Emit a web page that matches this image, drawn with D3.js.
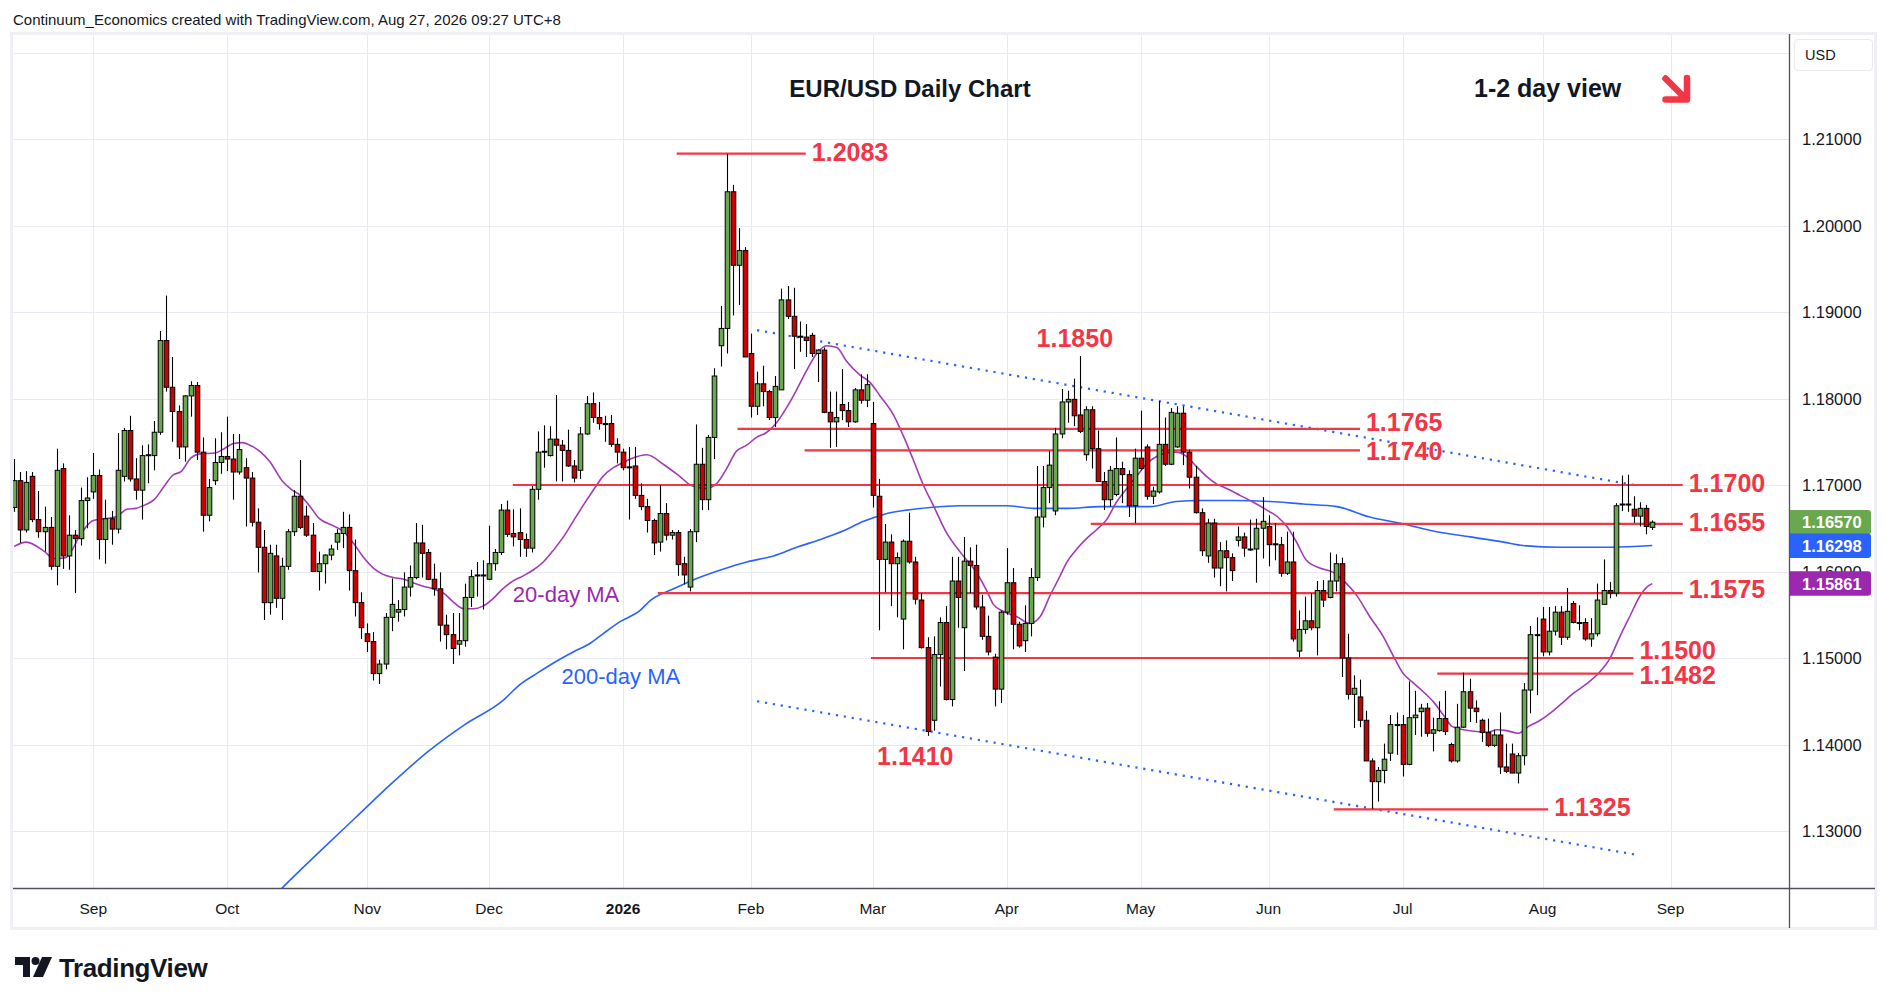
<!DOCTYPE html>
<html>
<head>
<meta charset="utf-8">
<script src="https://cdn.jsdelivr.net/npm/d3@7/dist/d3.min.js"></script>
<style>
body{margin:0;background:#fff;}
svg{display:block;}
</style>
</head>
<body>
<svg id="chart" width="1889" height="1003"></svg>
<script>
// ---- data (bar index 0 = 13 Aug 2025, daily bars, weekends / 25 Dec / 1 Jan skipped)
var opens = [
1.1674,1.1705,1.1648,1.1710,1.1660,1.1646,1.1651,1.1606,1.1719,1.1618,1.1642,1.1638,1.1682,1.1692,1.1711,1.1637,1.1661,1.1649,1.1710,1.1763,
1.1707,1.1694,1.1734,1.1734,1.1761,1.1867,1.1813,1.1785,1.1744,1.1803,1.1815,1.1738,1.1665,1.1705,1.1726,1.1733,1.1730,1.1715,1.1720,1.1708,
1.1657,1.1628,1.1564,1.1618,1.1569,1.1606,1.1646,1.1687,1.1664,1.1642,1.1600,1.1609,1.1619,1.1634,1.1644,1.1651,1.1601,1.1564,1.1528,1.1519,
1.1482,1.1493,1.1547,1.1553,1.1556,1.1582,1.1593,1.1633,1.1622,1.1591,1.1580,1.1538,1.1527,1.1516,1.1520,1.1570,1.1596,1.1596,1.1591,1.1609,
1.1622,1.1671,1.1644,1.1645,1.1637,1.1627,1.1695,1.1738,1.1734,1.1753,1.1746,1.1740,1.1722,1.1717,1.1759,1.1794,1.1778,1.1771,1.1771,1.1747,
1.1738,1.1721,1.1722,1.1688,1.1675,1.1659,1.1634,1.1667,1.1642,1.1645,1.1609,1.1582,1.1646,1.1724,1.1683,1.1755,1.1861,1.1881,1.2039,1.1954,
1.1971,1.1852,1.1791,1.1817,1.1808,1.1778,1.1810,1.1914,1.1895,1.1872,1.1871,1.1873,1.1852,1.1856,1.1784,1.1773,1.1793,1.1786,1.1773,1.1810,
1.1798,1.1771,1.1687,1.1614,1.1634,1.1609,1.1545,1.1635,1.1611,1.1567,1.1512,1.1428,1.1504,1.1541,1.1452,1.1589,1.1535,1.1612,1.1607,1.1559,
1.1525,1.1501,1.1464,1.1553,1.1587,1.1539,1.1520,1.1540,1.1593,1.1663,1.1697,1.1670,1.1759,1.1796,1.1799,1.1781,1.1735,1.1787,1.1742,1.1704,
1.1683,1.1689,1.1719,1.1712,1.1676,1.1731,1.1744,1.1687,1.1692,1.1747,1.1724,1.1744,1.1783,1.1738,1.1709,1.1668,1.1618,1.1656,1.1604,1.1624,
1.1616,1.1636,1.1640,1.1626,1.1626,1.1650,1.1652,1.1632,1.1631,1.1598,1.1611,1.1508,1.1533,1.1543,1.1535,1.1578,1.1570,1.1589,1.1609,1.1500,
1.1458,1.1455,1.1428,1.1381,1.1357,1.1370,1.1390,1.1423,1.1423,1.1377,1.1431,1.1438,1.1442,1.1413,1.1416,1.1430,1.1400,1.1381,1.1420,1.1461,
1.1442,1.1428,1.1414,1.1399,1.1411,1.1374,1.1389,1.1367,1.1387,1.1463,1.1527,1.1545,1.1507,1.1531,1.1553,1.1524,1.1563,1.1541,1.1541,1.1522,
1.1528,1.1562,1.1578,1.1575,1.1677,1.1678,1.1672,1.1664,1.1673,1.1651];
var highs = [
1.1730,1.1715,1.1716,1.1715,1.1693,1.1675,1.1663,1.1742,1.1725,1.1665,1.1648,1.1697,1.1709,1.1737,1.1718,1.1683,1.1670,1.1760,1.1766,1.1780,
1.1731,1.1746,1.1747,1.1774,1.1878,1.1919,1.1848,1.1792,1.1804,1.1820,1.1819,1.1755,1.1707,1.1754,1.1761,1.1779,1.1759,1.1759,1.1731,1.1715,
1.1673,1.1648,1.1631,1.1631,1.1616,1.1649,1.1694,1.1729,1.1676,1.1656,1.1623,1.1620,1.1631,1.1649,1.1669,1.1666,1.1637,1.1576,1.1540,1.1530,
1.1498,1.1552,1.1592,1.1567,1.1599,1.1607,1.1656,1.1654,1.1626,1.1609,1.1599,1.1550,1.1552,1.1552,1.1586,1.1602,1.1611,1.1613,1.1653,1.1626,
1.1678,1.1682,1.1672,1.1673,1.1644,1.1699,1.1762,1.1769,1.1768,1.1804,1.1752,1.1764,1.1729,1.1767,1.1803,1.1807,1.1796,1.1780,1.1781,1.1754,
1.1742,1.1744,1.1744,1.1702,1.1684,1.1661,1.1700,1.1679,1.1648,1.1648,1.1617,1.1649,1.1770,1.1743,1.1758,1.1835,1.1907,1.2083,1.2047,1.1997,
1.1975,1.1875,1.1831,1.1838,1.1810,1.1826,1.1927,1.1930,1.1928,1.1889,1.1886,1.1876,1.1857,1.1859,1.1808,1.1808,1.1834,1.1796,1.1812,1.1828,
1.1828,1.1796,1.1707,1.1655,1.1643,1.1622,1.1637,1.1668,1.1617,1.1575,1.1524,1.1525,1.1547,1.1560,1.1617,1.1617,1.1640,1.1628,1.1631,1.1573,
1.1549,1.1505,1.1555,1.1627,1.1604,1.1542,1.1561,1.1604,1.1722,1.1722,1.1739,1.1766,1.1811,1.1809,1.1823,1.1849,1.1791,1.1791,1.1763,1.1715,
1.1722,1.1755,1.1727,1.1717,1.1742,1.1786,1.1747,1.1698,1.1797,1.1778,1.1789,1.1791,1.1791,1.1741,1.1722,1.1673,1.1661,1.1661,1.1634,1.1636,
1.1621,1.1652,1.1645,1.1660,1.1661,1.1686,1.1665,1.1656,1.1640,1.1646,1.1646,1.1555,1.1571,1.1575,1.1589,1.1590,1.1622,1.1620,1.1616,1.1528,
1.1480,1.1475,1.1439,1.1384,1.1374,1.1401,1.1434,1.1437,1.1434,1.1473,1.1462,1.1447,1.1448,1.1431,1.1450,1.1462,1.1402,1.1447,1.1483,1.1476,
1.1451,1.1430,1.1430,1.1417,1.1437,1.1401,1.1401,1.1390,1.1471,1.1537,1.1547,1.1559,1.1559,1.1560,1.1560,1.1581,1.1566,1.1561,1.1546,1.1546,
1.1586,1.1614,1.1588,1.1679,1.1711,1.1712,1.1687,1.1680,1.1677,1.1659];
var lows = [
1.1669,1.1633,1.1645,1.1657,1.1639,1.1623,1.1602,1.1584,1.1603,1.1602,1.1575,1.1630,1.1650,1.1684,1.1614,1.1609,1.1631,1.1644,1.1704,1.1704,
1.1683,1.1660,1.1702,1.1717,1.1758,1.1808,1.1750,1.1730,1.1727,1.1779,1.1729,1.1646,1.1658,1.1700,1.1713,1.1716,1.1683,1.1712,1.1652,1.1652,
1.1599,1.1544,1.1550,1.1558,1.1544,1.1602,1.1641,1.1649,1.1640,1.1600,1.1578,1.1586,1.1613,1.1625,1.1627,1.1578,1.1548,1.1522,1.1507,1.1474,
1.1470,1.1487,1.1531,1.1542,1.1548,1.1571,1.1591,1.1593,1.1590,1.1572,1.1519,1.1510,1.1493,1.1503,1.1513,1.1559,1.1571,1.1556,1.1590,1.1601,
1.1619,1.1640,1.1629,1.1617,1.1617,1.1622,1.1683,1.1720,1.1733,1.1704,1.1704,1.1721,1.1703,1.1707,1.1758,1.1772,1.1764,1.1750,1.1744,1.1725,
1.1717,1.1660,1.1684,1.1671,1.1645,1.1619,1.1623,1.1636,1.1637,1.1595,1.1585,1.1577,1.1634,1.1671,1.1671,1.1730,1.1837,1.1852,1.1896,1.1908,
1.1848,1.1778,1.1781,1.1791,1.1775,1.1767,1.1810,1.1892,1.1834,1.1854,1.1848,1.1848,1.1819,1.1783,1.1743,1.1744,1.1775,1.1767,1.1772,1.1794,
1.1790,1.1674,1.1532,1.1576,1.1560,1.1547,1.1510,1.1609,1.1562,1.1511,1.1410,1.1416,1.1467,1.1451,1.1444,1.1535,1.1485,1.1575,1.1556,1.1521,
1.1503,1.1444,1.1448,1.1550,1.1510,1.1512,1.1507,1.1525,1.1589,1.1651,1.1679,1.1665,1.1754,1.1772,1.1768,1.1760,1.1728,1.1719,1.1704,1.1671,
1.1675,1.1687,1.1679,1.1663,1.1656,1.1717,1.1683,1.1678,1.1690,1.1722,1.1723,1.1743,1.1723,1.1696,1.1667,1.1618,1.1610,1.1593,1.1583,1.1577,
1.1589,1.1629,1.1617,1.1624,1.1587,1.1615,1.1606,1.1613,1.1594,1.1596,1.1519,1.1501,1.1528,1.1532,1.1503,1.1559,1.1569,1.1577,1.1478,1.1452,
1.1419,1.1420,1.1381,1.1326,1.1334,1.1355,1.1381,1.1388,1.1363,1.1376,1.1411,1.1409,1.1409,1.1392,1.1415,1.1411,1.1379,1.1379,1.1419,1.1426,
1.1425,1.1403,1.1397,1.1397,1.1366,1.1367,1.1367,1.1355,1.1376,1.1436,1.1457,1.1502,1.1503,1.1526,1.1515,1.1521,1.1540,1.1532,1.1520,1.1513,
1.1525,1.1562,1.1569,1.1571,1.1670,1.1669,1.1656,1.1652,1.1643,1.1648];
var closes = [
1.1705,1.1648,1.1703,1.1660,1.1646,1.1651,1.1606,1.1717,1.1618,1.1642,1.1638,1.1682,1.1685,1.1711,1.1637,1.1661,1.1649,1.1717,1.1763,1.1707,
1.1694,1.1734,1.1735,1.1761,1.1867,1.1813,1.1785,1.1744,1.1803,1.1815,1.1738,1.1665,1.1697,1.1726,1.1733,1.1730,1.1715,1.1741,1.1708,1.1657,
1.1628,1.1564,1.1621,1.1569,1.1606,1.1646,1.1687,1.1651,1.1642,1.1600,1.1609,1.1619,1.1626,1.1644,1.1651,1.1601,1.1564,1.1535,1.1519,1.1482,
1.1493,1.1547,1.1562,1.1556,1.1582,1.1593,1.1633,1.1621,1.1591,1.1580,1.1538,1.1527,1.1511,1.1520,1.1570,1.1594,1.1595,1.1596,1.1609,1.1622,
1.1671,1.1643,1.1640,1.1637,1.1627,1.1695,1.1738,1.1739,1.1753,1.1746,1.1740,1.1722,1.1708,1.1759,1.1794,1.1778,1.1771,1.1771,1.1747,1.1738,
1.1720,1.1721,1.1688,1.1675,1.1659,1.1633,1.1667,1.1642,1.1645,1.1608,1.1596,1.1646,1.1724,1.1683,1.1755,1.1826,1.1881,1.2039,1.1954,1.1971,
1.1848,1.1791,1.1817,1.1808,1.1778,1.1814,1.1914,1.1895,1.1872,1.1871,1.1867,1.1852,1.1856,1.1784,1.1773,1.1778,1.1786,1.1773,1.1810,1.1798,
1.1816,1.1688,1.1614,1.1634,1.1609,1.1616,1.1635,1.1611,1.1568,1.1512,1.1415,1.1504,1.1541,1.1452,1.1589,1.1570,1.1612,1.1607,1.1559,1.1525,
1.1507,1.1464,1.1553,1.1587,1.1539,1.1514,1.1540,1.1593,1.1663,1.1697,1.1723,1.1759,1.1796,1.1799,1.1780,1.1762,1.1787,1.1742,1.1704,1.1683,
1.1717,1.1719,1.1712,1.1676,1.1731,1.1719,1.1687,1.1693,1.1747,1.1724,1.1784,1.1783,1.1738,1.1709,1.1668,1.1624,1.1656,1.1604,1.1624,1.1616,
1.1601,1.1640,1.1627,1.1626,1.1650,1.1658,1.1631,1.1631,1.1598,1.1611,1.1522,1.1533,1.1543,1.1535,1.1578,1.1567,1.1589,1.1609,1.1500,1.1458,
1.1465,1.1428,1.1381,1.1357,1.1370,1.1383,1.1423,1.1422,1.1377,1.1431,1.1434,1.1442,1.1413,1.1417,1.1430,1.1415,1.1381,1.1420,1.1461,1.1442,
1.1438,1.1414,1.1399,1.1411,1.1374,1.1369,1.1367,1.1387,1.1463,1.1527,1.1527,1.1507,1.1531,1.1553,1.1524,1.1554,1.1541,1.1541,1.1522,1.1528,
1.1567,1.1578,1.1575,1.1676,1.1678,1.1677,1.1664,1.1673,1.1652,1.1657];

// moving averages: [bar index, value]
var ma20 = [[0,1.1629],[2,1.1634],[5,1.1623],[6.5,1.1615],[8.5,1.1616],[11,1.1644],[13,1.1659],[15,1.1661],[17,1.1664],[18.5,1.1672],
[20,1.1673],[21.5,1.1677],[23,1.1683],[24.5,1.1697],[26,1.1711],[27.5,1.1716],[29,1.1731],[30.5,1.1736],[33,1.1737],[34.5,1.1742],
[36,1.1748],[37.5,1.1749],[39,1.1745],[40.5,1.1738],[42,1.1727],[44,1.1705],[45.5,1.1695],[47,1.1688],[48.5,1.1676],[50,1.1662],
[52.4,1.1653],[54.1,1.1646],[55.7,1.1633],[57.3,1.1617],[59,1.1604],[60.5,1.1597],[62.3,1.1593],[64,1.1591],[65.5,1.1587],[67.2,1.1583],
[68.8,1.1580],[70.5,1.1575],[72.1,1.1565],[73.8,1.1557],[75.4,1.1557],[77,1.1560],[78.7,1.1569],[80.1,1.1579],[81.7,1.1588],[83.6,1.1595],
[85.3,1.1602],[86.9,1.1611],[88.6,1.1625],[90.2,1.1640],[91.8,1.1658],[93.5,1.1677],[95.1,1.1694],[96.7,1.1710],[98.4,1.1720],[100,1.1726],
[101.5,1.1731],[103.9,1.1735],[106.6,1.1724],[109.3,1.1710],[111.3,1.1699],[113.7,1.1696],[115.4,1.1702],[117,1.1719],[118.6,1.1739],[120.3,1.1746],
[121.9,1.1755],[123.6,1.1761],[125.2,1.1772],[126.9,1.1790],[128.5,1.1810],[130.1,1.1832],[131.8,1.1852],[133.4,1.1861],[135.1,1.1859],[136.7,1.1843],
[138.9,1.1827],[140.5,1.1819],[142.2,1.1803],[144.4,1.1781],[146,1.1757],[147.6,1.1730],[149.3,1.1700],[150.9,1.1677],[153.1,1.1645],[155.3,1.1623],
[158.1,1.1598],[159.7,1.1578],[160.8,1.1562],[162.4,1.1554],[164.6,1.1548],[166.8,1.1540],[168.5,1.1548],[170.1,1.1572],[171.7,1.1594],[172.8,1.1610],
[174.5,1.1626],[176.1,1.1638],[177.7,1.1648],[179.4,1.1660],[181,1.1680],[182.7,1.1696],[184.3,1.1710],[185.9,1.1724],[187.6,1.1733],[189.2,1.1737],
[190.9,1.1738],[192.5,1.1733],[194.2,1.1721],[195.8,1.1710],[197.5,1.1701],[199.1,1.1696],[201.3,1.1688],[203.5,1.1680],[205.7,1.1671],[207.5,1.1663],
[209,1.1652],[210.5,1.1635],[212.2,1.1613],[214.4,1.1604],[216.6,1.1599],[218.8,1.1586],[220.4,1.1573],[222.6,1.1548],[224.8,1.1525],[226.5,1.1502],
[228.1,1.1482],[229.8,1.1471],[231.4,1.1461],[233.1,1.1449],[234.7,1.1434],[236.1,1.1421],[238,1.1417],[240.2,1.1415],[241.9,1.1414],[243.5,1.1417],
[245.1,1.1416],[247,1.1413],[248.7,1.1421],[250.6,1.1428],[252.2,1.1436],[253.9,1.1446],[256,1.1459],[258.2,1.1470],[260.4,1.1484],[262,1.1499],
[263.7,1.1525],[265.3,1.1548],[267,1.1572],[268.1,1.1582],[269,1.1586]];
var ma200 = [[40,1.1205],[44,1.1234],[50,1.1275],[56,1.1315],[62,1.1355],[68,1.1392],[74,1.1423],[80.3,1.1451],[83,1.1469],[85.8,1.1482],
[88.5,1.1494],[91.8,1.1507],[94.6,1.1517],[96.7,1.1528],[99.5,1.1542],[102.8,1.1555],[104.4,1.1566],[108.3,1.1580],[112.1,1.1592],[116.5,1.1603],
[120.3,1.1611],[124.7,1.1618],[128.5,1.1628],[132.4,1.1637],[136.2,1.1647],[139.5,1.1658],[142.8,1.1666],[146.6,1.1671],[150.4,1.1674],[155.3,1.1676],
[163,1.1676],[167.4,1.1673],[172.9,1.1673],[178.3,1.1675],[186.5,1.1675],[190.9,1.1681],[194.7,1.1682],[200.2,1.1682],[206.2,1.1681],[211.7,1.1678],
[217.2,1.1675],[222.6,1.1663],[228.1,1.1655],[233.6,1.1646],[239.1,1.1640],[244.6,1.1634],[247.8,1.1630],[253.9,1.1628],[262.1,1.1628],[269,1.1630]];

// channel lines (dotted) [bar index, price]
var trendUpper = [[122,1.1879],[266,1.1700]];
var trendLower = [[122,1.1450],[266,1.1273]];

// horizontal support / resistance levels
var levelPrices = [1.2083, 1.1765, 1.1740, 1.1700, 1.1655, 1.1575, 1.1500, 1.1482, 1.1325];
var levelFrom   = [108.8, 118.8, 129.8, 81.9, 176.8, 105.7, 140.7, 233.7, 216.7];
var levelTo     = [130.0, 221.0, 221.0, 274.0, 274.0, 274.0, 265.9, 265.9, 251.9];
// free-standing level notes: text, bar index, baseline price
var noteText  = ["1.1850", "1.1410"];
var noteIdx   = [167.9, 141.7];
var notePrice = [1.1860, 1.13768];

var priceTicks = [1.13,1.14,1.15,1.16,1.17,1.18,1.19,1.20,1.21];
var gridPrices = [1.13,1.14,1.15,1.16,1.17,1.18,1.19,1.20,1.21,1.22];
var lastPrices = [1.16570, 1.16298, 1.15861];
var lastColors = ["#6aa84f", "#2962ff", "#9c27b0"];

// ---- layout
var W = 1889, H = 1003;
var plot = {l:13, r:1789, t:35, b:888};
var labelNudge = [-2, -6.5, 0.5, -1.6, -2, -4.5, -7.7, 1.3, -2.7]; // px offset of each level label from its line
var svg = d3.select("#chart");
svg.append("rect").attr("width",W).attr("height",H).attr("fill","#fff");

var x = d3.scaleLinear().domain([-0.18, 291.45]).range([plot.l, plot.r]);
var y = d3.scaleLinear().domain([1.13, 1.21]).range([831, 139]);

// trading days for the time axis
var fmtDay = d3.timeFormat("%Y-%m-%d");
var holidays = ["2025-12-25","2026-01-01"];
var days = d3.timeDay.range(new Date(2025,7,13), new Date(2026,9,1)).filter(function(d){
	var w = d.getDay();
	return w!==0 && w!==6 && holidays.indexOf(fmtDay(d))<0;
});
var monthTicks = [];
days.forEach(function(d,i){
	if(i>0 && i<=291 && d.getMonth()!==days[i-1].getMonth()) monthTicks.push(i);
});

// frame
svg.append("rect").attr("x",11.5).attr("y",33.5).attr("width",1864).attr("height",895)
	.attr("fill","none").attr("stroke","#eef0f4").attr("stroke-width",3);

var defs = svg.append("defs");
defs.append("clipPath").attr("id","plotclip").append("rect")
	.attr("x",plot.l).attr("y",plot.t).attr("width",plot.r-plot.l).attr("height",plot.b-plot.t);

// grid
var grid = svg.append("g").attr("clip-path","url(#plotclip)");
grid.selectAll("line.h").data(gridPrices).enter().append("line")
	.attr("x1",plot.l).attr("x2",plot.r)
	.attr("y1",function(d){return Math.round(y(d))+0.5;}).attr("y2",function(d){return Math.round(y(d))+0.5;})
	.attr("stroke","#e6ebf2").attr("stroke-width",1);
grid.selectAll("line.v").data(monthTicks).enter().append("line")
	.attr("y1",plot.t).attr("y2",plot.b)
	.attr("x1",function(d){return Math.round(x(d))+0.5;}).attr("x2",function(d){return Math.round(x(d))+0.5;})
	.attr("stroke","#e6ebf2").attr("stroke-width",1);

var g = svg.append("g").attr("clip-path","url(#plotclip)");

// moving averages
var maLine = d3.line().x(function(d){return x(d[0]);}).y(function(d){return y(d[1]);}).curve(d3.curveMonotoneX);
g.append("path").attr("d",maLine(ma200)).attr("fill","none").attr("stroke","#2962ff").attr("stroke-width",1.6);
g.append("path").attr("d",maLine(ma20)).attr("fill","none").attr("stroke","#a23bb6").attr("stroke-width",1.6);

// channel lines
[trendUpper, trendLower].forEach(function(t){
	g.append("line").attr("x1",x(t[0][0])).attr("y1",y(t[0][1])).attr("x2",x(t[1][0])).attr("y2",y(t[1][1]))
		.attr("stroke","#2962ff").attr("stroke-width",2.2).attr("stroke-dasharray","2.2,5.8");
});

// levels
g.selectAll("line.lvl").data(levelPrices).enter().append("line")
	.attr("x1",function(d,i){return x(levelFrom[i]);}).attr("x2",function(d,i){return x(levelTo[i]);})
	.attr("y1",function(d){return y(d);}).attr("y2",function(d){return y(d);})
	.attr("stroke","#f23645").attr("stroke-width",2.2);

// candles
var idx = d3.range(closes.length);
var bw = 4.6;
g.selectAll("line.wick").data(idx).enter().append("line")
	.attr("x1",function(i){return Math.round(x(i))+0.5;}).attr("x2",function(i){return Math.round(x(i))+0.5;})
	.attr("y1",function(i){return y(highs[i]);}).attr("y2",function(i){return y(lows[i]);})
	.attr("stroke","#000").attr("stroke-width",1.1);
g.selectAll("rect.body").data(idx).enter().append("rect")
	.attr("x",function(i){return Math.round(x(i))+0.5-bw/2;})
	.attr("width",bw)
	.attr("y",function(i){return y(Math.max(opens[i],closes[i]));})
	.attr("height",function(i){return Math.max(1,Math.abs(y(opens[i])-y(closes[i])));})
	.attr("fill",function(i){return closes[i]>=opens[i]?"#6aa84f":"#cc0000";})
	.attr("stroke","#000").attr("stroke-width",1);

// level labels
var sans = "'Liberation Sans', Arial, sans-serif";
svg.selectAll("text.lvl").data(levelPrices).enter().append("text")
	.attr("x",function(d,i){return x(levelTo[i])+6;})
	.attr("y",function(d,i){return y(d)+9+labelNudge[i];})
	.attr("font-family",sans).attr("font-weight","bold").attr("font-size",25).attr("fill","#f23645")
	.text(function(d){return d.toFixed(4);});
svg.selectAll("text.note").data(noteText).enter().append("text")
	.attr("x",function(d,i){return x(noteIdx[i]);})
	.attr("y",function(d,i){return y(notePrice[i]);})
	.attr("font-family",sans).attr("font-weight","bold").attr("font-size",25).attr("fill","#f23645")
	.text(function(d){return d;});

// MA labels
svg.append("text").attr("x",x(81.9)).attr("y",y(1.15647))
	.attr("font-family",sans).attr("font-size",22).attr("fill","#9c27b0").text("20-day MA");
svg.append("text").attr("x",x(89.9)).attr("y",y(1.14696))
	.attr("font-family",sans).attr("font-size",22).attr("fill","#2962ff").text("200-day MA");

// titles
svg.append("text").attr("x",910).attr("y",97).attr("text-anchor","middle")
	.attr("font-family",sans).attr("font-weight","bold").attr("font-size",24).attr("fill","#131722")
	.text("EUR/USD Daily Chart");
svg.append("text").attr("x",1474).attr("y",97)
	.attr("font-family",sans).attr("font-weight","bold").attr("font-size",25).attr("fill","#131722")
	.text("1-2 day view");
// down arrow
svg.append("path").attr("d","M1665.5,78.5 L1686,99 M1665.5,99.5 H1687 V78")
	.attr("fill","none").attr("stroke","#f23645").attr("stroke-width",6.5)
	.attr("stroke-linecap","round").attr("stroke-linejoin","round");

// axes lines
svg.append("line").attr("x1",plot.r+0.5).attr("x2",plot.r+0.5).attr("y1",plot.t-1).attr("y2",928)
	.attr("stroke","#50535e").attr("stroke-width",1.3);
svg.append("line").attr("x1",plot.l).attr("x2",1875).attr("y1",plot.b+0.5).attr("y2",plot.b+0.5)
	.attr("stroke","#50535e").attr("stroke-width",1.3);

// price axis labels
svg.selectAll("text.pt").data(priceTicks).enter().append("text")
	.attr("x",1802).attr("y",function(d){return y(d)+6;})
	.attr("font-family",sans).attr("font-size",16.5).attr("fill","#131722")
	.text(function(d){return d.toFixed(5);});

// last value badges
var badge = svg.selectAll("g.badge").data(lastPrices).enter().append("g");
badge.append("path").attr("d",function(d){
	var yy = y(d)-12.2, h = 24.4, w = 81, r = 3;
	return "M1790,"+yy+" H"+(1790+w-r)+" Q"+(1790+w)+","+yy+" "+(1790+w)+","+(yy+r)
		+" V"+(yy+h-r)+" Q"+(1790+w)+","+(yy+h)+" "+(1790+w-r)+","+(yy+h)+" H1790 Z";
}).attr("fill",function(d,i){return lastColors[i];});
badge.append("text").attr("x",1802).attr("y",function(d){return y(d)+6;})
	.attr("font-family",sans).attr("font-size",16.5).attr("font-weight","bold").attr("fill","#fff")
	.text(function(d){return d.toFixed(5);});

// currency box
svg.append("rect").attr("x",1794.5).attr("y",39.5).attr("width",78).attr("height",31).attr("rx",4)
	.attr("fill","#fff").attr("stroke","#e8eaef").attr("stroke-width",1.2);
svg.append("text").attr("x",1805).attr("y",60).attr("font-family",sans).attr("font-size",14.5)
	.attr("fill","#131722").text("USD");

// time axis labels
var fmtMonth = d3.timeFormat("%b");
svg.selectAll("text.tt").data(monthTicks).enter().append("text")
	.attr("x",function(d){return x(d);}).attr("y",914).attr("text-anchor","middle")
	.attr("font-family",sans).attr("font-size",15.5).attr("fill","#131722")
	.attr("font-weight",function(d){return days[d].getMonth()===0?"bold":"normal";})
	.text(function(d){return days[d].getMonth()===0?days[d].getFullYear():fmtMonth(days[d]);});

// header and logo
svg.append("text").attr("x",13).attr("y",25).attr("font-family",sans).attr("font-size",15)
	.attr("fill","#131722").text("Continuum_Economics created with TradingView.com, Aug 27, 2026 09:27 UTC+8");
var logo = svg.append("g").attr("transform","translate(15,957)").attr("fill","#131722");
logo.append("path").attr("d","M0,0 H15 V20 H8 V8 H0 Z");
logo.append("circle").attr("cx",20.5).attr("cy",4).attr("r",4);
logo.append("path").attr("d","M27,0 H37 L28,20 H18 Z");
svg.append("text").attr("x",59).attr("y",977).attr("font-family",sans).attr("font-weight","bold")
	.attr("font-size",26).attr("letter-spacing",-0.4).attr("fill","#131722").text("TradingView");
</script>
</body>
</html>
